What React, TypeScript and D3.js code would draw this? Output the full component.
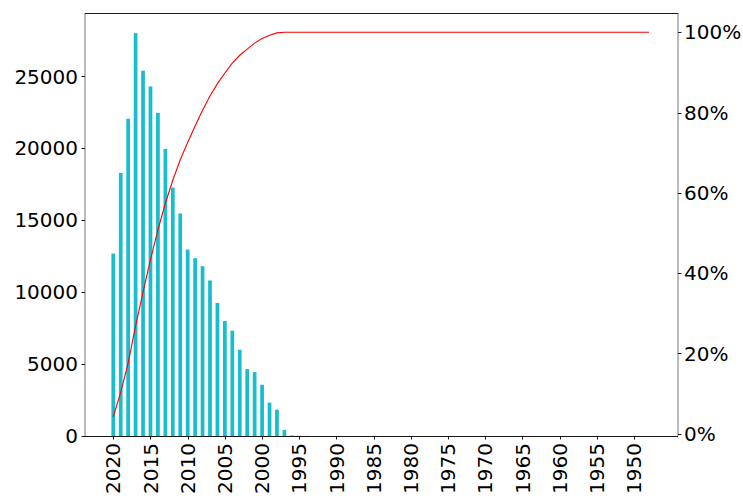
import React, { useEffect, useRef } from 'react';
import * as d3 from 'd3';

// years plotted from 2020 back to 1948 (x axis is reversed)
const years: number[] = d3.range(2020, 1947, -1);

// count per year, same order as years
const counts: number[] = [
  12680, 18280, 22050, 28000, 25390, 24300, 22460, 19950, 17260, 15470,
  12960, 12360, 11800, 10810, 9250, 7990, 7320, 5990, 4650, 4440,
  3560, 2320, 1830, 430, 40, 20, 10, 0, 0, 0,
  0, 0, 0, 0, 0, 0, 0, 0, 0, 0,
  0, 0, 0, 0, 0, 0, 0, 0, 0, 0,
  0, 0, 0, 0, 0, 0, 0, 0, 0, 0,
  0, 0, 0, 0, 0, 0, 0, 0, 0, 0,
  0, 0, 0,
];

const xTicks = [2020, 2015, 2010, 2005, 2000, 1995, 1990, 1985, 1980, 1975, 1970, 1965, 1960, 1955, 1950];
const leftTicks = [0, 5000, 10000, 15000, 20000, 25000];
const rightTicks = [0, 0.2, 0.4, 0.6, 0.8, 1.0];

const W = 743;
const H = 500;

const App = () => {
  const chartRef = useRef<SVGSVGElement>(null);

  useEffect(() => {
    const svg = d3.select(chartRef.current);
    svg.selectAll('*').remove();

    const left = 85, right = 678, top = 13, bottom = 436;
    const font = '"DejaVu Sans", sans-serif';
    const fs = 20;

    const x = d3.scaleLinear().domain([2023.8, 1944.1]).range([left, right]);
    const yL = d3.scaleLinear().domain([0, 29400]).range([bottom, top]);

    // cumulative share
    const total = d3.sum(counts);
    let run = 0;
    const cum = counts.map(c => { run += c; return run / total; });
    const c0 = cum[0];
    const span = 1 - c0;
    const yR = d3.scaleLinear().domain([c0 - 0.05 * span, 1 + 0.05 * span]).range([bottom, top]);

    const barW = x(2020) - x(2020.5);

    svg.append('rect').attr('width', W).attr('height', H).attr('fill', 'white');

    svg.append('g')
      .selectAll('rect')
      .data(years)
      .enter().append('rect')
      .attr('x', (d) => x(d) - barW / 2)
      .attr('width', barW)
      .attr('y', (d, i) => yL(counts[i]))
      .attr('height', (d, i) => bottom - yL(counts[i]))
      .attr('fill', '#17becf');

    const line = d3.line<number>()
      .x((d, i) => x(years[i]))
      .y(d => yR(d));

    svg.append('path')
      .datum(cum)
      .attr('d', line)
      .attr('fill', 'none')
      .attr('stroke', '#ff0000')
      .attr('stroke-width', 1.1);

    // spines (sides look grey in the original)
    svg.append('line').attr('x1', left).attr('x2', left).attr('y1', top).attr('y2', bottom).attr('stroke', '#777').attr('stroke-width', 1);
    svg.append('line').attr('x1', right).attr('x2', right).attr('y1', top).attr('y2', bottom).attr('stroke', '#777').attr('stroke-width', 1);
    svg.append('line').attr('x1', left).attr('x2', right).attr('y1', top + 0.5).attr('y2', top + 0.5).attr('stroke', '#000').attr('stroke-width', 0.9);
    svg.append('line').attr('x1', left).attr('x2', right).attr('y1', bottom + 0.5).attr('y2', bottom + 0.5).attr('stroke', '#000').attr('stroke-width', 0.9);

    // left axis
    const gl = svg.append('g');
    leftTicks.forEach(t => {
      const yy = Math.round(yL(t)) + 0.5;
      gl.append('line').attr('x1', left - 3.5).attr('x2', left).attr('y1', yy).attr('y2', yy).attr('stroke', '#000').attr('stroke-width', 0.9);
      gl.append('text')
        .attr('x', left - 7)
        .attr('y', yL(t))
        .attr('dy', '0.36em')
        .attr('text-anchor', 'end')
        .style('font-family', font)
        .style('font-size', `${fs}px`)
        .text(String(t));
    });

    // right axis
    const gr = svg.append('g');
    rightTicks.forEach(t => {
      const yy = Math.round(yR(t)) + 0.5;
      gr.append('line').attr('x1', right).attr('x2', right + 3.5).attr('y1', yy).attr('y2', yy).attr('stroke', '#000').attr('stroke-width', 0.9);
      gr.append('text')
        .attr('x', right + 6)
        .attr('y', yR(t))
        .attr('dy', '0.36em')
        .attr('text-anchor', 'start')
        .style('font-family', font)
        .style('font-size', `${fs}px`)
        .text(d3.format('.0%')(t));
    });

    // bottom axis, rotated labels
    const gb = svg.append('g');
    xTicks.forEach(t => {
      const xx = Math.round(x(t)) + 0.5;
      gb.append('line').attr('x1', xx).attr('x2', xx).attr('y1', bottom).attr('y2', bottom + 3.5).attr('stroke', '#000').attr('stroke-width', 0.9);
      gb.append('text')
        .attr('transform', `translate(${x(t)},${bottom + 7}) rotate(-90)`)
        .attr('dy', '0.36em')
        .attr('text-anchor', 'end')
        .style('font-family', font)
        .style('font-size', `${fs}px`)
        .text(String(t));
    });
  }, []);

  return (
    <svg
      ref={chartRef}
      width={W}
      height={H}
      style={{ position: 'absolute', left: 0, top: 0, display: 'block' }}
    />
  );
};

export default App;
